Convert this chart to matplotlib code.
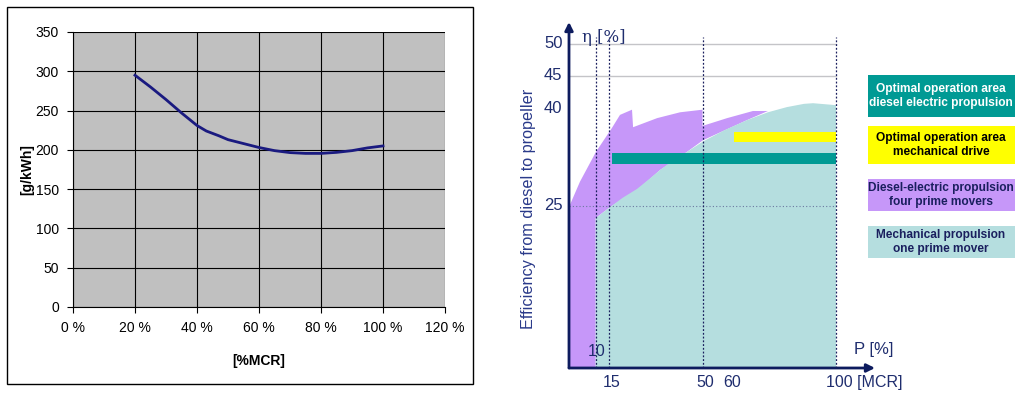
import matplotlib
matplotlib.use("Agg")
import matplotlib.pyplot as plt
from matplotlib.patches import Rectangle, Polygon

plt.rcParams['font.family'] = ['Liberation Sans', 'DejaVu Sans']

# ---------------- Left chart data ----------------
load_pct = [20, 25, 30, 35, 40, 43, 47, 50, 55, 60, 65, 70, 75, 80, 85, 90, 95, 100]
sfoc = [295, 280, 264, 247, 231, 224, 218, 213, 208, 203, 199, 196.5, 195.5, 195.5, 196.8, 199, 202.5, 205]
left_xticks = [0, 20, 40, 60, 80, 100, 120]
left_xticklabels = ["0 %", "20 %", "40 %", "60 %", "80 %", "100 %", "120 %"]
left_yticks = [0, 50, 100, 150, 200, 250, 300, 350]

# ---------------- Right chart data ----------------
purple_P = [0, 0, 4.1, 10.1, 16.1, 19.1, 23.6, 24.0, 33.0, 41.6, 50.0, 50.0, 59.2, 68.9, 74.5,
            66.7, 50.2, 44.2, 34.1, 25.5, 15.4, 10, 10]
purple_eta = [0, 24.8, 28.7, 33.3, 37.0, 39.0, 39.8, 37.1, 38.5, 39.4, 39.8, 37.3, 38.5, 39.6, 39.6,
              38.2, 35.1, 33.3, 30.5, 27.4, 24.8, 23.1, 0]
cyan_P = [10, 10, 15.4, 20, 25.5, 30, 34.1, 39, 44.2, 50.2, 58, 66.7, 74.5, 81.6, 88, 91.4, 100, 100]
cyan_eta = [0, 23.1, 24.8, 26.2, 27.6, 29.1, 30.5, 32.0, 33.3, 34.9, 36.6, 38.2, 39.4, 40.2, 40.7, 40.8, 40.5, 0]
teal_bar = (16, 100, 31.4, 33.1)      # P start, P end, eta low, eta high
yellow_bar = (61.8, 100, 34.8, 36.4)
right_xticks = [15, 50, 60]
right_yticks = [25, 40, 45, 50]
vlines_P = [10, 15, 50, 100]
hlines_eta = [45, 50]

legend_items = [
    ("Optimal operation area\ndiesel electric propulsion", "#009a94", "white"),
    ("Optimal operation area\nmechanical drive", "#ffff00", "black"),
    ("Diesel-electric propulsion\nfour prime movers", "#c697f9", "#1a1f5e"),
    ("Mechanical propulsion\none prime mover", "#b5dedf", "#1a1f5e"),
]

W, H = 1024, 398
fig = plt.figure(figsize=(W / 100, H / 100), dpi=100)

# ---------- left panel ----------
fig.patches.append(Rectangle((7 / W, 1 - 384 / H), (473 - 7) / W, (384 - 7) / H,
                             transform=fig.transFigure, fill=False, edgecolor='black', lw=1))
axL = fig.add_axes([73 / W, 1 - 307 / H, (445 - 73) / W, (307 - 32) / H])
axL.set_facecolor('#c0c0c0')
axL.plot(load_pct, sfoc, color='#1a1a80', lw=2)
axL.set_xlim(0, 120)
axL.set_ylim(0, 350)
axL.set_xticks(left_xticks)
axL.set_xticklabels(left_xticklabels)
axL.set_yticks(left_yticks)
axL.grid(True, color='black', lw=0.8)
axL.set_axisbelow(True)
for s in ['top', 'right']:
    axL.spines[s].set_visible(False)
axL.spines['left'].set_color('black')
axL.spines['bottom'].set_color('black')
axL.tick_params(labelsize=10, length=4, width=0.8, pad=6)
axL.set_ylabel('[g/kWh]', fontweight='bold', fontsize=10, labelpad=1)
axL.set_xlabel('[%MCR]', fontweight='bold', fontsize=10, labelpad=14)

# ---------- right panel ----------
px0, py0, sx, sy = 569, 368, 2.67, 6.49
axR = fig.add_axes([500 / W, 0, 380 / W, 1])
axR.set_xlim((500 - px0) / sx, (880 - px0) / sx)
axR.set_ylim((py0 - 398) / sy, (py0 - 0) / sy)
axR.axis('off')

navy = '#0d1b5e'
txt = '#1f2d6e'
axR.add_patch(Polygon(list(zip(purple_P, purple_eta)), closed=True, facecolor='#c697f9', edgecolor='none'))
axR.add_patch(Polygon(list(zip(cyan_P, cyan_eta)), closed=True, facecolor='#b5dedf', edgecolor='none'))
for (x0, x1, y0, y1), c in [(teal_bar, '#009a94'), (yellow_bar, '#ffff00')]:
    axR.add_patch(Rectangle((x0, y0), x1 - x0, y1 - y0, facecolor=c, edgecolor='none'))

for e in hlines_eta:
    axR.plot([0, 100], [e, e], color='#c4c4c8', lw=1)
axR.plot([0, 100], [25, 25], color='#6c7aa0', lw=0.8, ls=(0, (1, 2)))
for p in vlines_P:
    axR.plot([p, p], [0, 51], color='#1a1f5e', lw=0.9, ls=(0, (1.5, 1.5)))

axR.annotate('', xy=(0, (py0 - 22) / sy), xytext=(0, 0),
             arrowprops=dict(arrowstyle='-|>', color=navy, lw=2, mutation_scale=12, shrinkA=0, shrinkB=0))
axR.annotate('', xy=((875 - px0) / sx, 0), xytext=(0, 0),
             arrowprops=dict(arrowstyle='-|>', color=navy, lw=2, mutation_scale=12, shrinkA=0, shrinkB=0))

for t in right_yticks:
    axR.text(-2.4, t, str(t), ha='right', va='center', fontsize=12, color=txt)
for t in right_xticks:
    axR.text(t + 1.0, -2.3, str(t), ha='center', va='center', fontsize=11.5, color=txt)
axR.text(100 - 3.8, -2.3, '100 [MCR]', ha='left', va='center', fontsize=11.5, color=txt)
axR.text(10.5, 2.5, '10', ha='center', va='center', fontsize=11.5, color=txt)
axR.text(114, 2.8, 'P [%]', ha='center', va='center', fontsize=12, color=txt)
axR.text(13, 51.0, 'η [%]', ha='center', va='center', fontsize=12, color=txt, family=['DejaVu Serif'])
axR.text((528 - px0) / sx, (py0 - 209) / sy, 'Efficiency from diesel to propeller',
         rotation=90, ha='center', va='center', fontsize=11.7, color='#2a3a8a')

# ---------- legend boxes ----------
boxes_y = [(75, 117), (126, 164), (179, 211), (226, 258)]
for (label, fc, tc), (y0, y1) in zip(legend_items, boxes_y):
    fig.patches.append(Rectangle((868 / W, 1 - y1 / H), (1015 - 868) / W, (y1 - y0) / H,
                                 transform=fig.transFigure, facecolor=fc, edgecolor='none'))
    fig.text(941 / W, 1 - (y0 + y1) / 2 / H, label, ha='center', va='center',
             fontsize=8.6, fontweight='bold', color=tc, linespacing=1.2)

fig.savefig('out.png', dpi=100)
